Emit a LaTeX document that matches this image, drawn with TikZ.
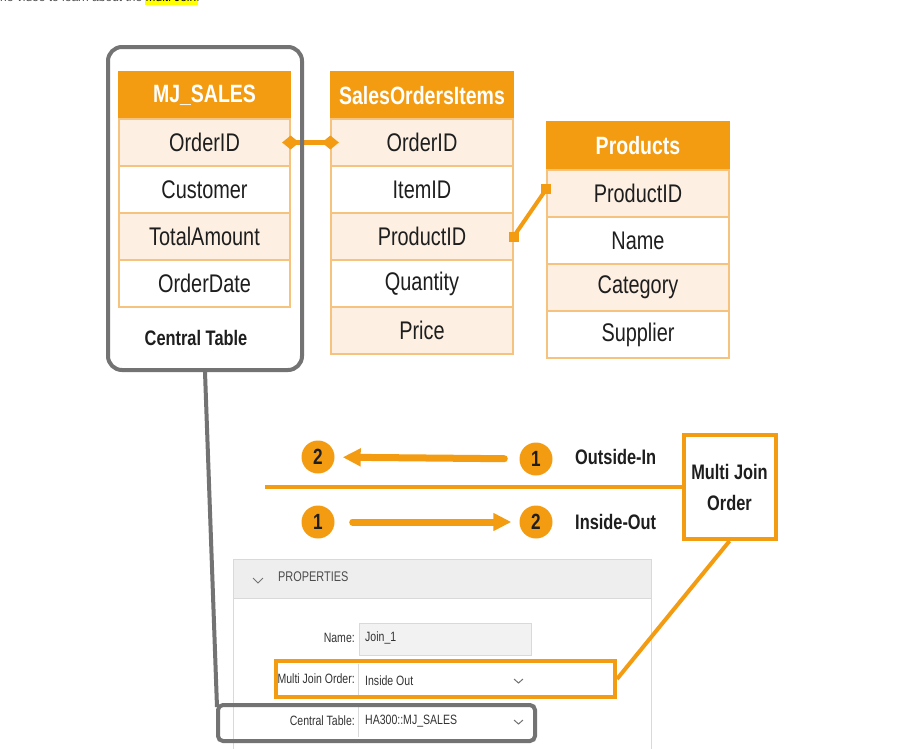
\documentclass[tikz,border=0pt]{standalone}
\usepackage{fontspec}
\setmainfont{Liberation Sans}
\newfontfamily\nf[FakeStretch=0.78]{Liberation Sans}
\usetikzlibrary{arrows.meta}
\definecolor{org}{HTML}{F39C12}
\definecolor{orgl}{HTML}{FDF0E3}
\definecolor{orgline}{HTML}{F6C37E}
\definecolor{gbox}{HTML}{737373}
\definecolor{panelline}{HTML}{D9D9D9}
\definecolor{panelhead}{HTML}{EEEEEE}
\definecolor{fieldgray}{HTML}{F2F2F2}
\definecolor{txt}{HTML}{1E1E1E}
\definecolor{hl}{HTML}{FFFF00}
\tikzset{
  cell/.style={draw=orgline, line width=1.3pt, minimum height=47pt, inner sep=0pt,
    font=\nf\fontsize{25.5}{30}\selectfont, text=txt},
  hdr/.style={cell, fill=org, draw=org, text=white, font=\nf\bfseries\fontsize{25}{30}\selectfont},
  lt/.style={fill=orgl},
  wt/.style={fill=white},
  conn/.style={draw=org, line width=4.5pt},
  num/.style={circle, fill=org, minimum size=33pt, inner sep=0pt, text=txt,
    font=\nf\bfseries\fontsize{22}{24}\selectfont},
  lbl/.style={font=\nf\bfseries\fontsize{21}{25}\selectfont, text=txt, inner sep=0pt},
  bigarrow/.style={draw=org, line width=7pt, line cap=round},
  plabel/.style={font=\nf\fontsize{13.5}{15}\selectfont, text=black!80, inner sep=0pt},
  field/.style={draw=panelline, line width=0.8pt, inner sep=0pt, minimum width=172pt, minimum height=32pt},
  chev/.style={draw=black!55, line width=1pt},
  endsq/.style={fill=org},
}
\begin{document}
\begin{tikzpicture}[x=1pt,y=-1pt]
\useasboundingbox (0,0) rectangle (919,748);
\fill[white] (0,0) rectangle (919,748);

% cropped top line of text
\begin{scope}
\clip (0,0) rectangle (919,748);
\fill[hl] (145,-4) rectangle (198,5);
\node[anchor=base west, inner sep=0pt, font=\fontsize{12}{14}\selectfont, text=black!70] (topline) at (0,1.5) {ne video to learn about the \textcolor{black}{Multi Join}.};
\end{scope}

% MJ_SALES
\node[hdr, minimum width=171pt] (ms) at (204.5,95.5) {MJ\_SALES};
\node[cell, lt, minimum width=171pt] (ms1) at (204.5,142.5) {OrderID};
\node[cell, wt, minimum width=171pt] (ms2) at (204.5,189.5) {Customer};
\node[cell, lt, minimum width=171pt] (ms3) at (204.5,236.5) {TotalAmount};
\node[cell, wt, minimum width=171pt] (ms4) at (204.5,283.5) {OrderDate};

% SalesOrdersItems
\node[hdr, minimum width=182pt] (soi) at (422,95.5) {SalesOrdersItems};
\node[cell, lt, minimum width=182pt] (soi1) at (422,142.5) {OrderID};
\node[cell, wt, minimum width=182pt] (soi2) at (422,189.5) {ItemID};
\node[cell, lt, minimum width=182pt] (soi3) at (422,236.5) {ProductID};
\node[cell, wt, minimum width=182pt] (soi4) at (422,283.5) {Quantity};
\node[cell, lt, minimum width=182pt] (soi5) at (422,330.5) {Price};

% Products
\node[hdr, minimum width=182pt, minimum height=48pt] (pr) at (638,146) {Products};
\node[cell, lt, minimum width=182pt] (pr1) at (638,193.5) {ProductID};
\node[cell, wt, minimum width=182pt] (pr2) at (638,240.5) {Name};
\node[cell, lt, minimum width=182pt] (pr3) at (638,287.5) {Category};
\node[cell, wt, minimum width=182pt] (pr4) at (638,334.5) {Supplier};

% join connectors
\draw[conn, {Diamond[length=17pt,width=14pt]}-{Diamond[length=17pt,width=14pt]}, shorten <=-8.5pt, shorten >=-8.5pt] (ms1.east) -- (soi1.west);
\coordinate (pa) at (soi3.east);
\coordinate (pb) at ([yshift=4.5pt]pr1.west);
\draw[draw=org, line width=4pt] (pa) -- (pb);
\fill[endsq] ([shift={(-5pt,-5pt)}]pa) rectangle ([shift={(5pt,5pt)}]pa);
\fill[endsq] ([shift={(-5pt,-5pt)}]pb) rectangle ([shift={(5pt,5pt)}]pb);

% central table frame
\node[draw=gbox, line width=4pt, rounded corners=14pt, minimum width=194pt, minimum height=323pt] (ctbox) at (205,208.5) {};
\node[lbl, font=\nf\bfseries\fontsize{21}{25}\selectfont] (cttext) at (196,338) {Central Table};

% middle: multi join order legend
\node[draw=org, line width=4pt, fill=white, minimum width=92pt, minimum height=104pt, align=center, font=\nf\bfseries\fontsize{21}{31}\selectfont, text=txt] (mjo) at (729.5,487) {Multi Join\\Order};
\coordinate (hl0) at (265,487);
\draw[draw=org, line width=4.5pt] (hl0) -- (mjo.west);

\node[num] (t2) at (318,457) {2};
\node[num] (t1) at (536,459) {1};
\node[num] (b1) at (318,522) {1};
\node[num] (b2) at (536,522) {2};
\draw[bigarrow, -{Triangle[length=18pt,width=17pt]}, shorten <=15pt, shorten >=8pt] (t1) -- (t2);
\draw[bigarrow, -{Triangle[length=18pt,width=17pt]}, shorten <=18pt, shorten >=8pt] (b1) -- (b2);
\node[lbl, anchor=west] (oi) at (575,457) {Outside-In};
\node[lbl, anchor=west] (io) at (575,522) {Inside-Out};

% properties panel
\fill[panelhead] (233,559) rectangle (651,598);
\draw[panelline, line width=1pt] (233,752) -- (233,559) -- (651,559) -- (651,752);
\draw[panelline, line width=1pt] (233,598) -- (651,598);
\draw[chev] (253,578) -- (258,583) -- (263,578);
\node[plabel, anchor=west, text=black!70, font=\nf\fontsize{14}{16}\selectfont] (props) at (278,577) {PROPERTIES};

\node[field, fill=fieldgray] (f1) at (445,639) {};
\node[field, fill=white, draw=white] (f2) at (445,680) {};
\node[field, fill=white, draw=white] (f3) at (445,721) {};
\draw[panelline, line width=0.8pt] (f2.north west) -- (f2.south west);
\draw[panelline, line width=0.8pt] (f3.north west) -- (f3.south west);

\node[plabel, anchor=east] (l1) at (355,638) {Name:};
\node[plabel, anchor=east] (l2) at (355,679) {Multi Join Order:};
\node[plabel, anchor=east] (l3) at (355,721) {Central Table:};
\node[plabel, anchor=west] (v1) at (365,638) {Join\_1};
\node[plabel, anchor=west] (v2) at (365,681) {Inside Out};
\node[plabel, anchor=west] (v3) at (365,721) {HA300::MJ\_SALES};
\draw[chev] (514,679) -- (518.5,683) -- (523,679);
\draw[chev] (514,720) -- (518.5,724) -- (523,720);

% highlight frames
\node[draw=org, line width=4pt, minimum width=339pt, minimum height=36pt, inner sep=0pt] (mjofield) at (445.5,679) {};
\node[draw=gbox, line width=4pt, rounded corners=5pt, minimum width=317pt, minimum height=36pt, inner sep=0pt] (ctfield) at (376.5,723) {};

% callout lines
\draw[draw=org, line width=4pt] (mjo.south) -- (mjofield.east);
\draw[draw=gbox, line width=4pt] (ctbox.south) -- ([shift={(1pt,-4pt)}]ctfield.north west);
\end{tikzpicture}
\end{document}
